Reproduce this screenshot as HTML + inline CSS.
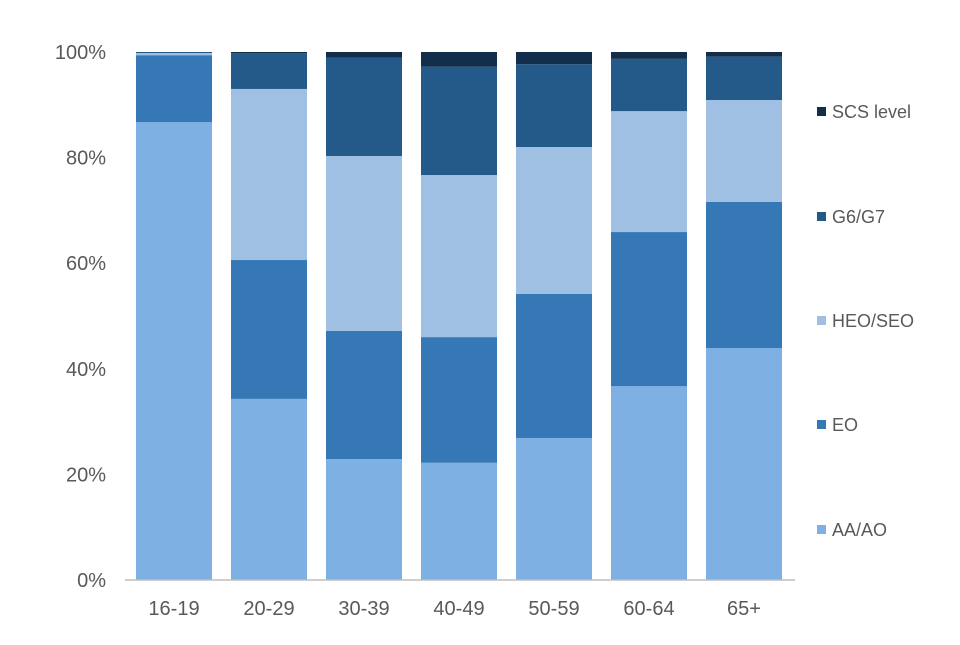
<!DOCTYPE html>
<html><head><meta charset="utf-8"><style>
body{margin:0;background:#fff;font-family:"Liberation Sans",Arial,sans-serif}
svg text{font-family:"Liberation Sans",Arial,sans-serif;fill:#595959}
</style></head><body>
<svg id="chart" width="960" height="640" viewBox="0 0 960 640"></svg>
<script>
const categories=["16-19","20-29","30-39","40-49","50-59","60-64","65+"];
const seriesNames=["AA/AO","EO","HEO/SEO","G6/G7","SCS level"];
const aaAo=[86.7,34.3,22.9,22.2,26.9,36.7,43.9];
const eo=[12.7,26.3,24.3,23.8,27.3,29.2,27.7];
const heoSeo=[0.4,32.4,33.1,30.7,27.8,22.9,19.3];
const g6g7=[0.2,6.8,18.6,20.5,15.7,9.9,8.2];
const scs=[0,0.2,1.1,2.8,2.3,1.3,0.9];
const yTicks=[0,20,40,60,80,100];
const colors=["#7eb0e3","#3578b5","#a0c0e3","#245a8a","#132e4a"];
const series=[aaAo,eo,heoSeo,g6g7,scs];
const svg=document.getElementById('chart');
const NS="http://www.w3.org/2000/svg";
const y0=580,y1=52,x0=125,band=95,barW=76;
const y=v=>y0-(v/100)*(y0-y1);
const xc=i=>174+i*band;
function mk(t,a){const e=document.createElementNS(NS,t);for(const k in a)e.setAttribute(k,a[k]);svg.appendChild(e);return e;}
yTicks.forEach(t=>{const e=mk('text',{x:106,y:y(t)+7,'text-anchor':'end','font-size':20});e.textContent=t+'%';

});
categories.forEach((c,i)=>{let cum=0;
series.forEach((s,k)=>{const v=s[i];const r=mk('rect',{x:xc(i)-barW/2,y:y(cum+v),width:barW,height:Math.max(0,y(cum)-y(cum+v)),fill:colors[k]});


cum+=v;});
const t=mk('text',{x:xc(i),y:615,'text-anchor':'middle','font-size':20});t.textContent=c;

});
const ax=mk('line',{x1:x0,x2:795,y1:y0,y2:y0,stroke:'#bfbfbf','stroke-width':1.5});


const ly=[530,425,321,217,112];
seriesNames.forEach((n,k)=>{const r=mk('rect',{x:817,y:ly[k]-5,width:9,height:9,fill:colors[k]});


const t=mk('text',{x:832,y:ly[k]+6,'font-size':18});t.textContent=n;

});
</script>
</body></html>
